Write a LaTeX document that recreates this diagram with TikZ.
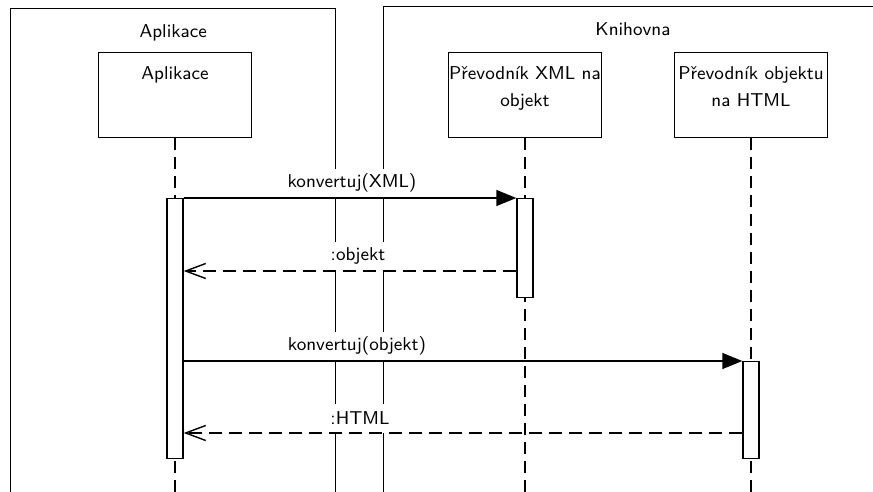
\documentclass[tikz,border=0pt]{standalone}
\usepackage{fontspec}
\usetikzlibrary{arrows.meta,positioning,calc}

\tikzset{
  every node/.style={font=\sffamily\fontsize{9.3}{13.5}\selectfont},
  frame/.style={draw, line width=0.7pt, minimum height=260pt, anchor=north west, inner sep=0pt},
  frametitle/.style={anchor=north, inner sep=0pt, yshift=-8.2pt},
  obj/.style={draw, line width=0.7pt, minimum width=76.5pt, minimum height=42.5pt, anchor=north, inner sep=0pt},
  objtext/.style={anchor=north, align=center, inner sep=0pt, yshift=-7.2pt},
  lifeline/.style={line width=0.7pt, dash pattern=on 6pt off 3.5pt},
  act/.style={draw, fill=white, line width=0.7pt, minimum width=8pt, inner sep=0pt, anchor=north},
  call/.style={line width=0.7pt, -{Triangle[length=10pt,width=8pt]}},
  ret/.style={line width=0.7pt, dash pattern=on 6.5pt off 3.5pt, -{Straight Barb[length=10pt,width=7.5pt]}},
  msg/.style={fill=white, anchor=south, inner sep=1pt, minimum height=14.5pt}
}

\begin{document}
\begin{tikzpicture}[x=0.5pt,y=-0.5pt]

\useasboundingbox (0,0) rectangle (873,492);
\clip (0,0) rectangle (873,492);

% Ramce
  \node[frame, minimum width=162.5pt] (fApp) at (10,8) {};
  \node[frame, minimum width=250pt] (fLib) at (383,6) {};
  \node[frametitle] (fAppT) at (fApp.north) {Aplikace};
  \node[frametitle] (fLibT) at ($(fLib.north west)+(250,0)$) {Knihovna};

% Objekty
  \node[obj] (app) at (175,52) {};
  \node[obj] (xml) at (525,52) {};
  \node[obj] (html) at (751,52) {};
  \node[objtext] (appT) at (app.north) {Aplikace};
  \node[objtext] (xmlT) at (xml.north) {Převodník XML na\\objekt};
  \node[objtext] (htmlT) at (html.north) {Převodník objektu\\na HTML};

% Zivotni cary
  \coordinate (appEnd) at (app.south |- 0,500);
  \coordinate (xmlEnd) at (xml.south |- 0,500);
  \coordinate (htmlEnd) at (html.south |- 0,500);
  \draw[lifeline] (app.south) -- (appEnd);
  \draw[lifeline] (xml.south) -- (xmlEnd);
  \draw[lifeline] (html.south) -- (htmlEnd);

% Popisky zprav
  \node[msg] (lCall1) at (352,198) {konvertuj(XML)};
  \node[msg] (lRet1) at (358,271) {:objekt};
  \node[msg] (lCall2) at (357,361) {konvertuj(objekt)};
  \node[msg] (lRet2) at (360,433) {:HTML};

% Aktivace
  \node[act, minimum height=130pt] (actA) at (175,198) {};
  \node[act, minimum height=49.5pt] (actX) at (525,198) {};
  \node[act, minimum height=48.5pt] (actH) at (751,361) {};

% Zpravy
  \draw[call] (actA.north east) -- (actX.north west);
  \path (actX.north west) ++(0,73) coordinate (r1);
  \draw[ret] (r1) -- (r1 -| actA.east);

  \draw[call] (actA.east |- actH.north west) -- (actH.north west);
  \path (actH.north west) ++(0,72) coordinate (r2);
  \draw[ret] (r2) -- (r2 -| actA.east);

\end{tikzpicture}
\end{document}
